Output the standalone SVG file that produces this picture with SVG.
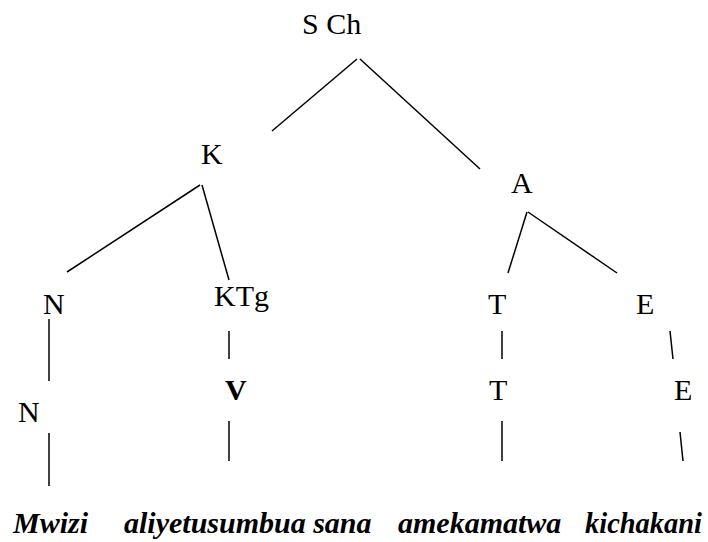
<svg xmlns="http://www.w3.org/2000/svg" width="708" height="542" viewBox="0 0 708 542">
<style>
text{font-family:'Liberation Serif','Times New Roman',serif;font-size:30px;fill:#000}
.b{font-weight:bold}
.w{font-weight:bold;font-style:italic}
#edges line{stroke:#000;stroke-width:1.5;fill:none}
</style>
<rect width="708" height="542" fill="#fff"/>
<g id="edges">
<line x1="357" y1="59" x2="272" y2="131"/>
<line x1="360" y1="59" x2="480" y2="169"/>
<line x1="200" y1="185" x2="67" y2="272"/>
<line x1="202" y1="185" x2="229" y2="280"/>
<line x1="527" y1="212" x2="508" y2="273"/>
<line x1="528" y1="212" x2="617" y2="273"/>
<line x1="49" y1="319" x2="49" y2="381"/>
<line x1="229" y1="331" x2="229" y2="359"/>
<line x1="502" y1="331" x2="502" y2="359"/>
<line x1="670" y1="331" x2="673" y2="359"/>
<line x1="49" y1="433" x2="49" y2="486"/>
<line x1="229" y1="421" x2="229" y2="461"/>
<line x1="502" y1="421" x2="502" y2="461"/>
<line x1="680" y1="432" x2="683" y2="461"/>
</g>
<g id="n-sch"><text x="302" y="34">S Ch</text></g>
<g id="n-k"><text x="201" y="164">K</text></g>
<g id="n-a"><text x="511" y="193">A</text></g>
<g id="n-n1"><text x="43" y="314">N</text></g>
<g id="n-ktg"><text x="214" y="306">KTg</text></g>
<g id="n-t1"><text x="488" y="314">T</text></g>
<g id="n-e1"><text x="636" y="314">E</text></g>
<g id="n-n2"><text x="18" y="422">N</text></g>
<g id="n-v"><text class="b" x="225" y="400">V</text></g>
<g id="n-t2"><text x="489" y="400">T</text></g>
<g id="n-e2"><text x="674" y="400">E</text></g>
<g id="w-mwizi"><text class="w" x="13" y="533">Mwizi</text></g>
<g id="w-aliyetusumbua"><text class="w" x="124" y="533">aliyetusumbua sana</text></g>
<g id="w-amekamatwa"><text class="w" x="398" y="533">amekamatwa</text></g>
<g id="w-kichakani"><text class="w" x="585" y="533" textLength="117" lengthAdjust="spacingAndGlyphs">kichakani</text></g>
</svg>
